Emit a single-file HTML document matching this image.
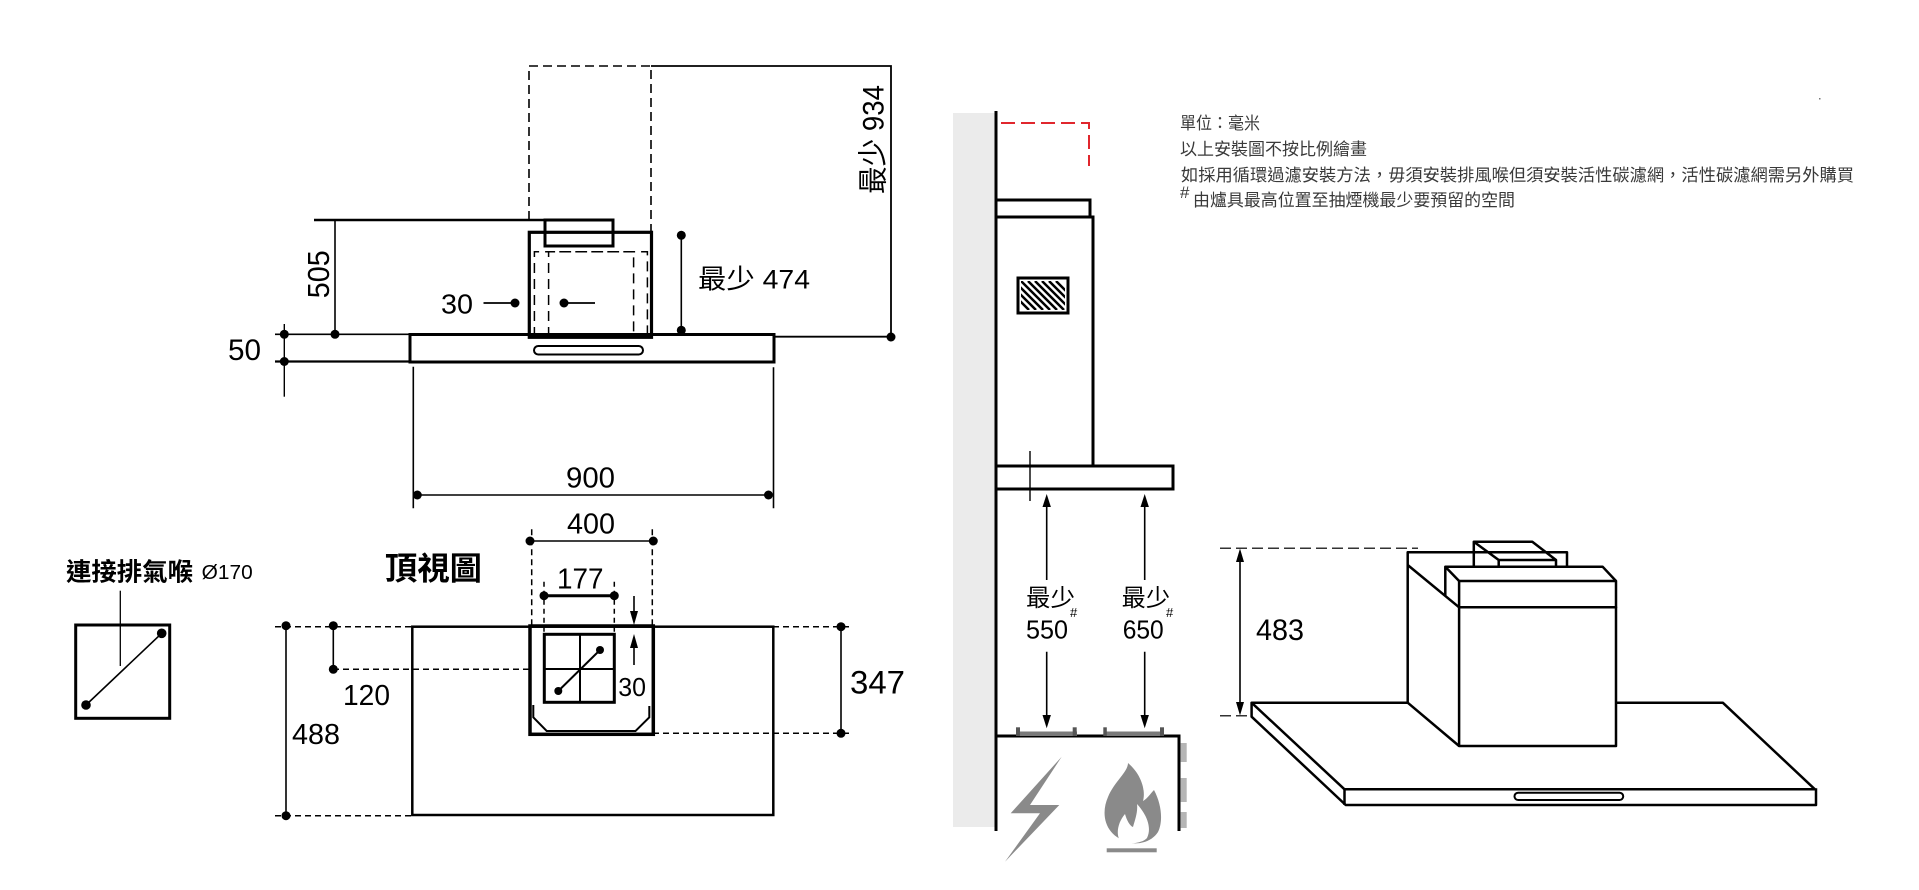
<!DOCTYPE html>
<html><head><meta charset="utf-8">
<style>
html,body{margin:0;padding:0;background:#fff;}
svg{display:block;}
.n{font-family:"Liberation Sans",Arial,sans-serif;fill:#000;}
.c{font-family:"Liberation Sans","Noto Sans CJK TC",sans-serif;fill:#000;}
.t{font-family:"Liberation Sans","Noto Sans CJK TC",sans-serif;fill:#3a3a3a;font-size:17px;}
</style></head><body>
<svg width="1919" height="890" viewBox="0 0 1919 890" xmlns="http://www.w3.org/2000/svg">
<rect width="1919" height="890" fill="#fff"/>
<defs>
<clipPath id="hc"><rect x="1021" y="281" width="44" height="29"/></clipPath>
</defs>

<!-- ============ FRONT VIEW (left top) ============ -->
<g fill="none" stroke="#000">
  <path d="M529,220 V66 H651 V232" stroke-width="1.6" stroke-dasharray="9,5"/>
  <path d="M651,66 H891 V337" stroke-width="1.8"/>
  <path d="M314,220 H545" stroke-width="2.5"/>
  <rect x="545" y="220" width="68" height="26" stroke-width="3"/>
  <rect x="529.3" y="232.3" width="122.2" height="105" stroke-width="3.2"/>
  <path d="M534.4,337 V251.7 H647.4 V337" stroke-width="1.5" stroke-dasharray="10,6"/>
  <path d="M548.6,337 V251.7 H633.6 V337" stroke-width="1.5" stroke-dasharray="10,6"/>
  <rect x="410" y="334.5" width="364" height="27.5" stroke-width="3"/>
  <rect x="534" y="346" width="109" height="8.5" rx="4.25" stroke-width="2"/>
  <path d="M275,334.3 H410" stroke-width="1.6"/>
  <path d="M275,361.5 H410" stroke-width="2.2"/>
  <path d="M774,336.7 H891" stroke-width="1.8"/>
  <path d="M284.3,324 V396.7" stroke-width="1.4"/>
  <path d="M335,220 V334.3" stroke-width="1.6"/>
  <path d="M681.3,235.3 V330.3" stroke-width="1.6"/>
  <path d="M483.5,303 H515" stroke-width="1.8"/>
  <path d="M564,303 H595" stroke-width="1.8"/>
  <path d="M413.3,366.7 V508.3" stroke-width="1.6"/>
  <path d="M773.5,367.3 V508.3" stroke-width="1.6"/>
  <path d="M417.3,495 H768.5" stroke-width="1.6"/>
</g>
<g fill="#000">
  <circle cx="284.3" cy="334.3" r="4.5"/>
  <circle cx="284.3" cy="361.5" r="4.5"/>
  <circle cx="335" cy="334.3" r="4.5"/>
  <circle cx="681.3" cy="235.3" r="4.5"/>
  <circle cx="681.3" cy="330.3" r="4.5"/>
  <circle cx="891" cy="337" r="4.5"/>
  <circle cx="515" cy="303" r="4.5"/>
  <circle cx="564" cy="303" r="4.5"/>
  <circle cx="417.3" cy="495" r="4.5"/>
  <circle cx="768.5" cy="495" r="4.5"/>
</g>
<text class="n" x="228" y="360" font-size="30" textLength="33" lengthAdjust="spacingAndGlyphs">50</text>
<text class="n" x="441" y="313.3" font-size="28" textLength="32" lengthAdjust="spacingAndGlyphs">30</text>
<text class="n" transform="translate(329,298.3) rotate(-90)" x="0" y="0" font-size="31" textLength="48" lengthAdjust="spacingAndGlyphs">505</text>
<text class="c" x="698" y="288.3" font-size="27" textLength="112" lengthAdjust="spacingAndGlyphs">最少 474</text>
<text class="c" transform="translate(883.3,194) rotate(-90)" x="0" y="0" font-size="30" textLength="109" lengthAdjust="spacingAndGlyphs">最少 934</text>
<text class="n" x="566" y="487.7" font-size="29" textLength="49" lengthAdjust="spacingAndGlyphs">900</text>

<!-- ============ TOP VIEW ============ -->
<g fill="none" stroke="#000">
  <path d="M531.7,529.3 V626 M652.3,529.3 V626" stroke-width="1.5" stroke-dasharray="6,4"/>
  <path d="M530,541 H653.3" stroke-width="1.6"/>
  <path d="M544,581.7 V634 M614.3,581.7 V634" stroke-width="1.5" stroke-dasharray="5,4"/>
  <path d="M544,595.7 H614.3" stroke-width="3"/>
  <path d="M634,596 V614" stroke-width="1.6"/>
  <path d="M634,646 V665" stroke-width="1.6"/>
  <rect x="412.3" y="626.7" width="361" height="188.3" stroke-width="2.5"/>
  <rect x="530" y="626" width="123.3" height="108.3" stroke-width="3.5"/>
  <rect x="544.3" y="634.3" width="70" height="68" stroke-width="3"/>
  <path d="M580,634.3 V702.3 M544.3,669 H614.3" stroke-width="2"/>
  <path d="M600,650 L558.3,691" stroke-width="2"/>
  <path d="M533.3,705 V717.3 L546.7,731 H635.5 L649.3,717.3 V706" stroke-width="2"/>
  <path d="M275,626.7 H412 M275,815.7 H412 M333,669.3 H530 M773,626.7 H853 M653,733.3 H853" stroke-width="1.5" stroke-dasharray="6,4"/>
  <path d="M286,625.7 V815.7" stroke-width="1.6"/>
  <path d="M333.3,625.7 V669.3" stroke-width="1.6"/>
  <path d="M841,626.7 V733.3" stroke-width="1.6"/>
</g>
<g fill="#000">
  <circle cx="530" cy="541" r="4.5"/>
  <circle cx="653.3" cy="541" r="4.5"/>
  <circle cx="544" cy="595.7" r="4.5"/>
  <circle cx="614.3" cy="595.7" r="4.5"/>
  <circle cx="600" cy="650" r="4"/>
  <circle cx="558.3" cy="691" r="4"/>
  <circle cx="286" cy="625.7" r="4.5"/>
  <circle cx="286" cy="815.7" r="4.5"/>
  <circle cx="333.3" cy="625.7" r="4.5"/>
  <circle cx="333.3" cy="669.3" r="4.5"/>
  <circle cx="841" cy="626.7" r="4.5"/>
  <circle cx="841" cy="733.3" r="4.5"/>
  <path d="M634,625 L630,611 L638,611 Z"/>
  <path d="M634,634 L630,648 L638,648 Z"/>
</g>
<text class="n" x="567" y="533.3" font-size="29" textLength="48" lengthAdjust="spacingAndGlyphs">400</text>
<text class="n" x="557" y="588.3" font-size="29" textLength="46.5" lengthAdjust="spacingAndGlyphs">177</text>
<text class="n" x="618.3" y="696" font-size="26" textLength="27.7" lengthAdjust="spacingAndGlyphs">30</text>
<text class="n" x="850" y="693.3" font-size="32" textLength="55" lengthAdjust="spacingAndGlyphs">347</text>
<text class="n" x="343" y="705" font-size="29" textLength="47" lengthAdjust="spacingAndGlyphs">120</text>
<text class="n" x="292" y="744" font-size="29" textLength="48" lengthAdjust="spacingAndGlyphs">488</text>
<text class="c" x="385" y="579.5" font-size="32" font-weight="bold" textLength="97" lengthAdjust="spacingAndGlyphs">頂視圖</text>

<!-- ============ EXHAUST BOX ============ -->
<text class="c" x="66" y="580.5" font-size="25" font-weight="bold" textLength="127" lengthAdjust="spacingAndGlyphs">連接排氣喉</text>
<text class="n" x="201.7" y="579" font-size="20" textLength="51" lengthAdjust="spacingAndGlyphs">Ø170</text>
<g fill="none" stroke="#000">
  <path d="M120.3,590.7 V666" stroke-width="1.3"/>
  <rect x="75.7" y="625" width="94" height="93.3" stroke-width="3"/>
  <path d="M161.7,633.3 L86,705" stroke-width="1.6"/>
</g>
<circle cx="161.7" cy="633.3" r="4.8" fill="#000"/>
<circle cx="86" cy="705" r="4.8" fill="#000"/>

<!-- ============ SIDE VIEW ============ -->
<rect x="953" y="113" width="42" height="714" fill="#ebebeb"/>
<g fill="none" stroke="#000">
  <path d="M996,111 V831" stroke-width="3"/>
  <path d="M1001,123 H1089 V166" stroke="#e0262d" stroke-width="2" stroke-dasharray="14,6"/>
  <rect x="996" y="200" width="94" height="17" stroke-width="3"/>
  <path d="M996,217 H1093 V466" stroke-width="3"/>
  <rect x="1018" y="278" width="50" height="35" stroke-width="3"/>
  <g clip-path="url(#hc)" stroke-width="2.5">
    <path d="M1000,281 L1029,310 M1007,281 L1036,310 M1014,281 L1043,310 M1021,281 L1050,310 M1028,281 L1057,310 M1035,281 L1064,310 M1042,281 L1071,310 M1049,281 L1078,310 M1056,281 L1085,310"/>
  </g>
  <rect x="996" y="466" width="177" height="23" stroke-width="3"/>
  <path d="M1030,451 V501" stroke-width="1.4"/>
  <path d="M1046.7,505 V580 M1046.7,651.7 V716" stroke-width="1.6"/>
  <path d="M1144.7,505 V580 M1144.7,651.7 V716" stroke-width="1.6"/>
  <path d="M996,736 H1179 V831" stroke-width="3"/>
</g>
<g fill="#000">
  <path d="M1046.7,494 L1042.5,507 L1050.9,507 Z"/>
  <path d="M1046.7,728.3 L1042.5,715 L1050.9,715 Z"/>
  <path d="M1144.7,494 L1140.5,507 L1148.9,507 Z"/>
  <path d="M1144.7,728.3 L1140.5,715 L1148.9,715 Z"/>
</g>
<!-- grills -->
<g fill="#7a7a7a">
  <rect x="1017" y="731.5" width="60" height="4.5"/>
  <rect x="1016" y="727.3" width="4" height="8.7" fill="#555"/>
  <rect x="1072.7" y="727.3" width="4" height="8.7" fill="#555"/>
  <rect x="1104" y="731.5" width="60" height="4.5"/>
  <rect x="1103.3" y="727.3" width="3.5" height="8.7" fill="#555"/>
  <rect x="1160" y="727.3" width="4" height="8.7" fill="#555"/>
</g>
<g fill="#b5b5b5">
  <rect x="1180.7" y="743" width="6" height="19"/>
  <rect x="1180.7" y="778" width="6" height="24"/>
  <rect x="1180.7" y="812" width="6" height="16"/>
</g>
<!-- lightning -->
<path d="M1061.7,756.7 L1010.7,813.3 L1040,813.3 L1005,861.7 L1059.3,805 L1030,805 Z" fill="#8a8a8a"/>
<!-- flame -->
<path d="M1132.7,843.3 C1105,838 1100,815 1108,797 C1114,782 1128,772 1128,763 C1141,774 1146,790 1143,801 C1148,798 1150,794 1154,790 C1162,805 1163,822 1158,832 C1153,840 1143,844 1132.7,843.3 Z" fill="#8a8a8a"/>
<path d="M1121,842 C1115,835 1118,822 1125,814 C1127,821 1130,826 1133,827 C1135,820 1138,812 1137,804 C1147,815 1152,828 1147,838 C1143,843 1128,845 1121,842 Z" fill="#fff"/>
<rect x="1106.7" y="848.3" width="50" height="4" fill="#8a8a8a"/>

<text class="c" x="1026" y="606" font-size="24" textLength="49" lengthAdjust="spacingAndGlyphs">最少</text>
<text class="n" x="1026" y="638.3" font-size="26" textLength="42" lengthAdjust="spacingAndGlyphs">550</text>
<text class="n" x="1070" y="617" font-size="13">#</text>
<text class="c" x="1121.7" y="606" font-size="24" textLength="48.5" lengthAdjust="spacingAndGlyphs">最少</text>
<text class="n" x="1122.7" y="638.3" font-size="26" textLength="41" lengthAdjust="spacingAndGlyphs">650</text>
<text class="n" x="1166" y="617" font-size="13">#</text>

<!-- notes -->
<text class="t" x="1180" y="129" textLength="80" lengthAdjust="spacingAndGlyphs">單位：毫米</text>
<text class="t" x="1180" y="155" textLength="187" lengthAdjust="spacingAndGlyphs">以上安裝圖不按比例繪畫</text>
<text class="t" x="1181" y="181" textLength="673" lengthAdjust="spacingAndGlyphs">如採用循環過濾安裝方法，毋須安裝排風喉但須安裝活性碳濾網，活性碳濾網需另外購買</text>
<text class="t" x="1180" y="198" font-size="10">#</text>
<text class="t" x="1193" y="206" textLength="322" lengthAdjust="spacingAndGlyphs">由爐具最高位置至抽煙機最少要預留的空間</text>
<rect x="1819" y="98" width="1.5" height="1.5" fill="#777"/>

<!-- ============ PERSPECTIVE HOOD ============ -->
<g fill="none" stroke="#000" stroke-width="2.5" stroke-linejoin="round">
  <path d="M1407.7,702.7 H1251.6 L1344.5,789.3 H1814.9 L1722.8,702.7 H1616.4"/>
  <path d="M1251.6,702.7 V716.7 L1345.7,805 H1816 V788.3"/>
  <path d="M1344.5,789.3 V805"/>
  <rect x="1514.5" y="792.7" width="108.7" height="7.3" rx="3.6" stroke-width="2"/>
  <rect x="1459.1" y="607.3" width="156.9" height="138.7"/>
  <rect x="1459.1" y="581" width="156.9" height="26.3"/>
  <path d="M1407.7,565 V702.7 M1407.7,565 L1459.1,607.3 M1407.7,702.7 L1459.1,746"/>
  <path d="M1445.3,596 V566.7 H1602.6 L1616,581 M1445.3,566.7 L1459.1,581"/>
  <path d="M1407.7,565 V552.3 H1567 V566.7"/>
  <path d="M1473.8,566.7 V541.7 H1532.3 L1556,560 V566.7 M1473.8,541.7 L1498.7,560 H1556 M1498.7,560 V566.7"/>
</g>
<g stroke="#333" stroke-width="1.5" stroke-dasharray="11,5" fill="none">
  <path d="M1220,548.3 H1418"/>
  <path d="M1220,715.7 H1250"/>
</g>
<path d="M1240,556 V708" stroke="#000" stroke-width="1.6"/>
<path d="M1240,548.5 L1236,562 L1244,562 Z M1240,715.5 L1236,702 L1244,702 Z" fill="#000"/>
<text class="n" x="1256" y="640" font-size="30" textLength="48" lengthAdjust="spacingAndGlyphs">483</text>
</svg>
</body></html>
